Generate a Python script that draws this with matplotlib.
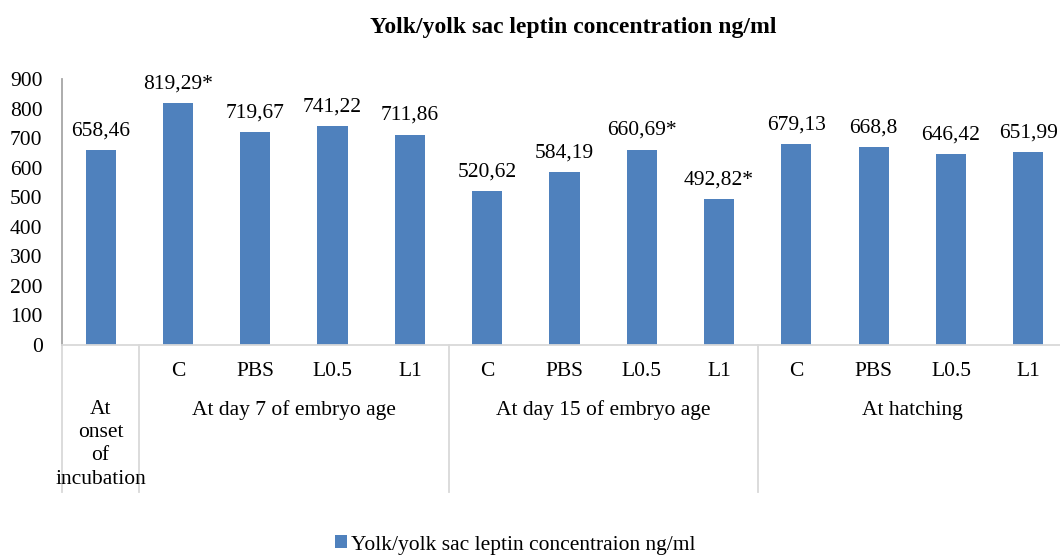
import matplotlib.pyplot as plt
from matplotlib.transforms import blended_transform_factory
import numpy as np

plt.rcParams['font.family'] = ['Liberation Serif', 'DejaVu Serif']

values = [658.46, 819.29, 719.67, 741.22, 711.86, 520.62, 584.19, 660.69, 492.82,
          679.13, 668.8, 646.42, 651.99]
value_labels = ['658,46', '819,29*', '719,67', '741,22', '711,86', '520,62', '584,19',
                '660,69*', '492,82*', '679,13', '668,8', '646,42', '651,99']
sub_labels = ['', 'C', 'PBS', 'L0.5', 'L1', 'C', 'PBS', 'L0.5', 'L1',
              'C', 'PBS', 'L0.5', 'L1']
groups = ['At\nonset\nof\nincubation', 'At day 7 of embryo age',
          'At day 15 of embryo age', 'At hatching']
group_sizes = [1, 4, 4, 4]
yticks = [0, 100, 200, 300, 400, 500, 600, 700, 800, 900]

fs = 15.5
W, H = 1060, 555
fig = plt.figure(figsize=(W / 100, H / 100), dpi=100)
slot = 77.3
left, right = 62, 62 + 13 * slot
top, bottom = 79, 345
ax = fig.add_axes([left / W, (H - bottom) / H, (right - left) / W, (bottom - top) / H])

x = np.arange(len(values))
ax.bar(x, values, width=0.39, color='#4F81BD', zorder=2,
       label='Yolk/yolk sac leptin concentraion ng/ml')
for xi, v, lab in zip(x, values, value_labels):
    ax.annotate(lab, (xi, v), xytext=(0, 7), textcoords='offset points',
                ha='center', va='bottom', fontsize=fs)

ax.set_xlim(-0.5, len(values) - 0.5)
ax.set_ylim(0, 900)
ax.set_yticks(yticks)
ax.tick_params(axis='y', length=0, labelsize=fs, pad=14)
ax.set_xticks([])
for s in ['top', 'right']:
    ax.spines[s].set_visible(False)
ax.spines['left'].set_color('#A6A6A6')
ax.spines['left'].set_linewidth(1.3)
ax.spines['bottom'].set_color('#D9D9D9')
ax.spines['bottom'].set_linewidth(1.3)

tr = blended_transform_factory(ax.transData, ax.transAxes)
ph = bottom - top
def yf(py):
    return (bottom - py) / ph

for xi, lab in zip(x, sub_labels):
    ax.text(xi, yf(371), lab, transform=tr, ha='center', va='center', fontsize=fs)

start = 0
bounds = [-0.5]
for g, n in zip(groups, group_sizes):
    center = start + (n - 1) / 2
    if '\n' in g:
        ax.text(center, yf(400), g, transform=tr, ha='center', va='top',
                fontsize=fs, linespacing=1.3)
    else:
        ax.text(center, yf(410), g, transform=tr, ha='center', va='center', fontsize=fs)
    start += n
    bounds.append(start - 0.5)

for b in bounds[:-1]:
    ax.plot([b, b], [0, yf(492)], transform=tr, color='#D9D9D9', lw=1.3, clip_on=False)

fig.text(573 / W, 1 - 27 / H, 'Yolk/yolk sac leptin concentration ng/ml',
         ha='center', va='center', fontsize=17, fontweight='bold')

fig.legend(loc='center', bbox_to_anchor=(515 / W, 1 - 545 / H), frameon=False,
           fontsize=fs, handlelength=0.55, handleheight=0.55, handletextpad=0.2)

fig.savefig('out.png', dpi=100)
